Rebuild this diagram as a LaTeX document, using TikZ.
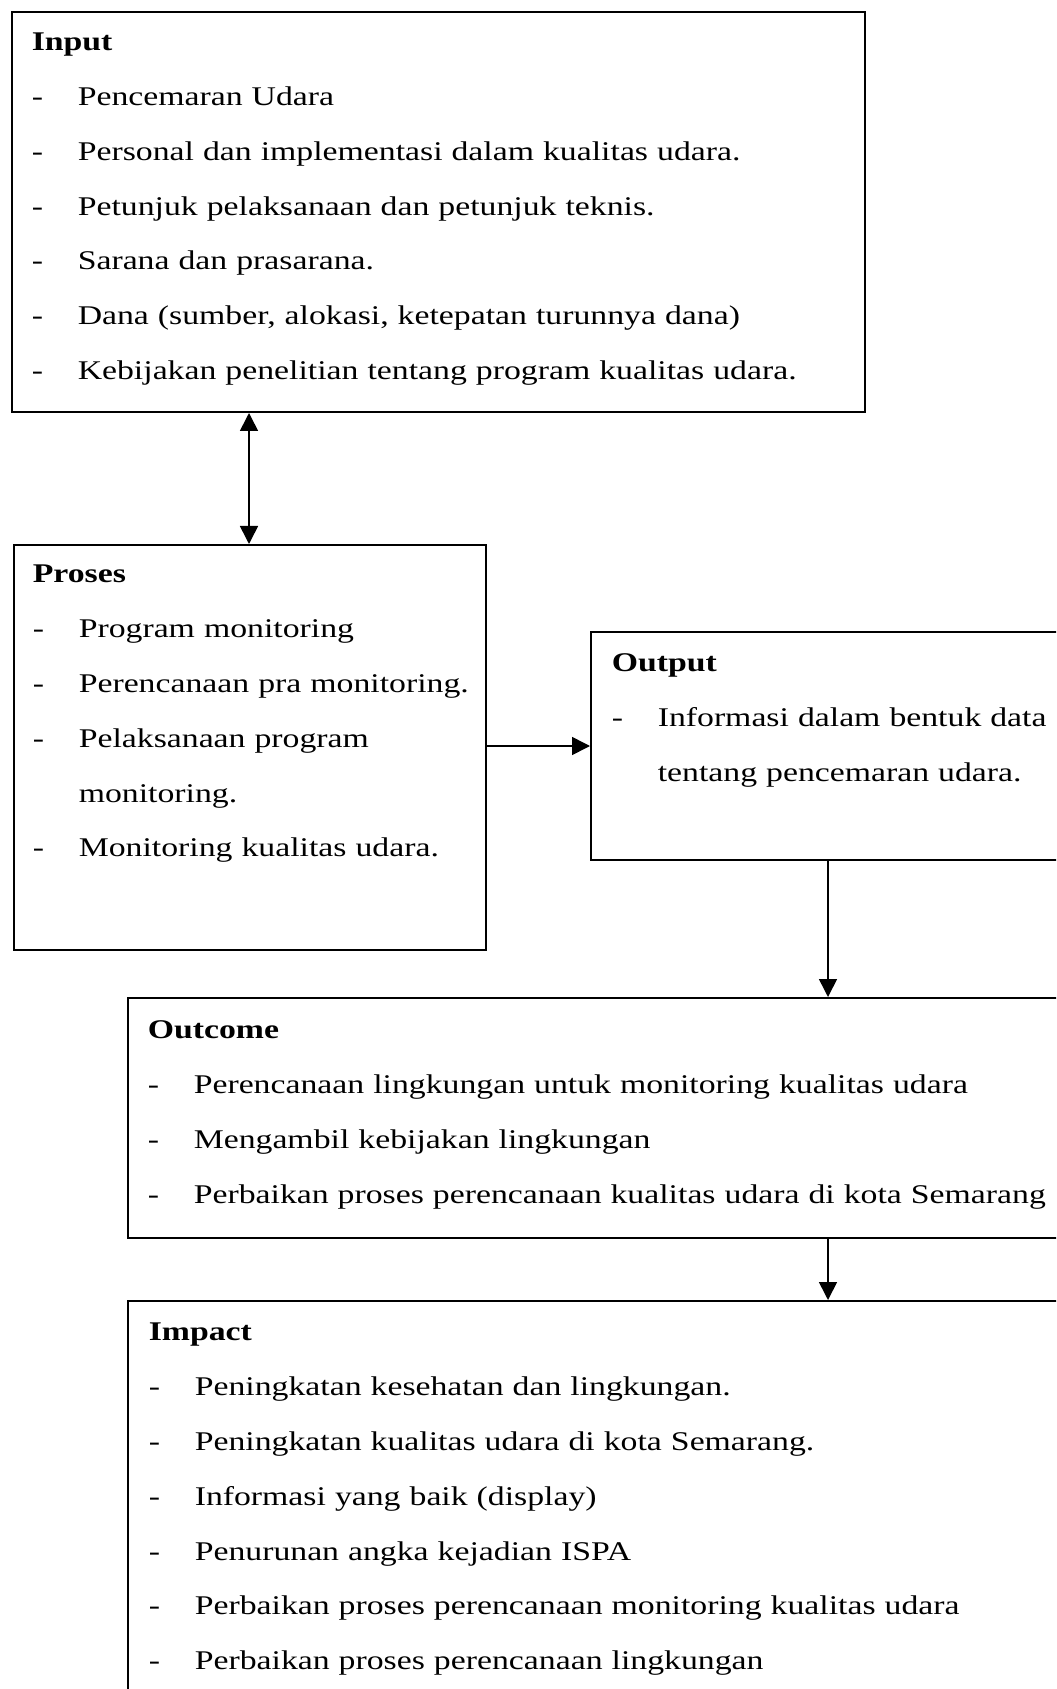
\documentclass[tikz,border=0pt]{standalone}
\usepackage{fontspec}
\setmainfont{Liberation Serif}[FakeStretch=1.25]
\usetikzlibrary{arrows.meta,positioning}

\newcommand{\boxhead}[1]{\rule{0pt}{20pt}\textbf{#1}}
\newcommand{\itm}[1]{\makebox[23pt][l]{-}#1}

\begin{document}
\begin{tikzpicture}[x=0.5pt, y=-0.5pt, thick]
    \tikzstyle{box} = [rectangle, draw, line width=1pt, anchor=north west, inner sep=0pt]
    \tikzstyle{txt} = [anchor=north west, inner sep=0pt, text width=480pt, align=left, font=\fontsize{13.5}{27.4}\selectfont]
    \tikzstyle{arrow} = [-{Triangle[length=9pt, width=9pt]}, line width=0.8pt]

    \useasboundingbox (0,0) rectangle (1056,1689);
    \clip (0,0) rectangle (1056,1689);

    % boxes
    \node [box, minimum width=426.5pt, minimum height=200pt] (input) at (11,11) {};
    \node [box, minimum width=236pt, minimum height=202.5pt] (proses) at (13,544) {};
    \node [box, minimum width=240pt, minimum height=114pt] (output) at (590,631) {};
    \node [box, minimum width=472pt, minimum height=120pt] (outcome) at (127,997) {};
    \node [box, minimum width=472pt, minimum height=200pt] (impact) at (127,1300) {};

    % texts
    \node [txt] (input-txt) at ([shift={(20,-1)}]input.north west) {\boxhead{Input}\\
        \itm{Pencemaran Udara}\\
        \itm{Personal dan implementasi dalam kualitas udara.}\\
        \itm{Petunjuk pelaksanaan dan petunjuk teknis.}\\
        \itm{Sarana dan prasarana.}\\
        \itm{Dana (sumber, alokasi, ketepatan turunnya dana)}\\
        \itm{Kebijakan penelitian tentang program kualitas udara.}};
    \node [txt] (proses-txt) at ([shift={(19,-2)}]proses.north west) {\boxhead{Proses}\\
        \itm{Program monitoring}\\
        \itm{Perencanaan pra monitoring.}\\
        \itm{Pelaksanaan program}\\
        \hspace*{23pt}monitoring.\\
        \itm{Monitoring kualitas udara.}};
    \node [txt] (output-txt) at ([shift={(21,0)}]output.north west) {\boxhead{Output}\\
        \itm{Informasi dalam bentuk data}\\
        \hspace*{23pt}tentang pencemaran udara.};
    \node [txt] (outcome-txt) at ([shift={(20,1)}]outcome.north west) {\boxhead{Outcome}\\
        \itm{Perencanaan lingkungan untuk monitoring kualitas udara}\\
        \itm{Mengambil kebijakan lingkungan}\\
        \itm{Perbaikan proses perencanaan kualitas udara di kota Semarang}};
    \node [txt] (impact-txt) at ([shift={(21,0)}]impact.north west) {\boxhead{Impact}\\
        \itm{Peningkatan kesehatan dan lingkungan.}\\
        \itm{Peningkatan kualitas udara di kota Semarang.}\\
        \itm{Informasi yang baik (display)}\\
        \itm{Penurunan angka kejadian ISPA}\\
        \itm{Perbaikan proses perencanaan monitoring kualitas udara}\\
        \itm{Perbaikan proses perencanaan lingkungan}};

    % connectors
    \coordinate (upx) at (249,0);
    \coordinate (midy) at (0,746);
    \coordinate (downx) at (828,0);
    \draw [{Triangle[length=9pt, width=9pt]}-{Triangle[length=9pt, width=9pt]}, line width=0.8pt] (upx |- input.south) -- (upx |- proses.north);
    \draw [arrow] (proses.east |- midy) -- (output.west |- midy);
    \draw [arrow] (downx |- output.south) -- (downx |- outcome.north);
    \draw [arrow] (downx |- outcome.south) -- (downx |- impact.north);
\end{tikzpicture}
\end{document}
